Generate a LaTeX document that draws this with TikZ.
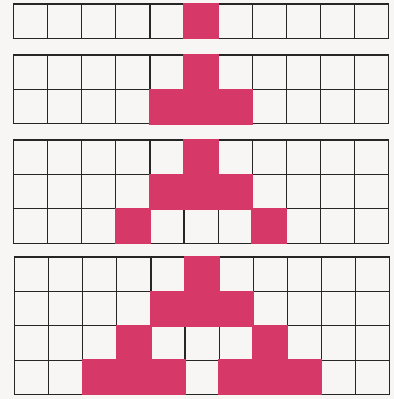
\documentclass[tikz,border=0pt]{standalone}
\usepackage{tikz}
\definecolor{alivepink}{RGB}{214,56,104}
\definecolor{paper}{RGB}{247,246,244}
\tikzset{
  sheet/.style={x=0.5mm, y=-0.5mm},
  board/.style={draw=black!85, line width=0.6mm, line cap=rect},
  cellunit/.style={x=17.05mm, y=-17.2mm},
  alive/.style={fill=alivepink},
}
% empty board of 11 columns and #1 rows
\newcommand{\board}[1]{%
  \foreach \c in {0,...,11} {\draw[board] (\c,0) -- (\c,#1);}
  \foreach \r in {0,...,#1} {\draw[board] (0,\r) -- (11,\r);}}
% live cell at column #1, row #2 (covers the grid lines round it)
\newcommand{\livecell}[2]{\fill[alive] (#1-0.025,#2-0.025) rectangle (#1+1.025,#2+1.025);}

\begin{document}
\begin{tikzpicture}[sheet]
  \fill[paper] (0,0) rectangle (394,399);
  % generation 1
  \begin{scope}[shift={(13.5,4)}, cellunit]
    \board{1}
    \livecell{5}{0}
  \end{scope}
  % generation 2
  \begin{scope}[shift={(13.5,55)}, cellunit]
    \board{2}
    \livecell{5}{0}
    \foreach \c in {4,5,6} {\livecell{\c}{1}}
  \end{scope}
  % generation 3
  \begin{scope}[shift={(13.5,140)}, cellunit]
    \board{3}
    \livecell{5}{0}
    \foreach \c in {4,5,6} {\livecell{\c}{1}}
    \foreach \c in {3,7} {\livecell{\c}{2}}
  \end{scope}
  % generation 4
  \begin{scope}[shift={(14.5,257)}, cellunit]
    \board{4}
    \livecell{5}{0}
    \foreach \c in {4,5,6} {\livecell{\c}{1}}
    \foreach \c in {3,7} {\livecell{\c}{2}}
    \foreach \c in {2,3,4,6,7,8} {\livecell{\c}{3}}
  \end{scope}
\end{tikzpicture}
\end{document}
